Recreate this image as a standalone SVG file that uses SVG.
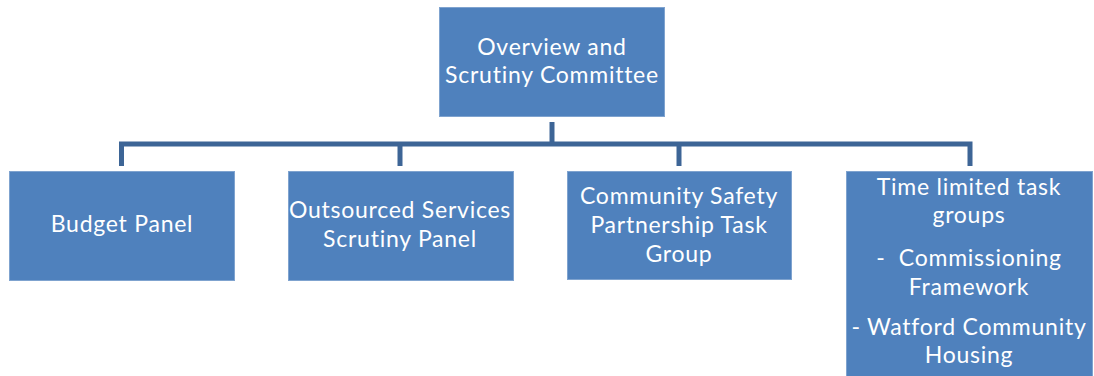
<svg xmlns="http://www.w3.org/2000/svg" width="1094" height="376" viewBox="0 0 1094 376">
<style>
.box{fill:#4F81BD;stroke:#7FA3CF;stroke-width:1}
.t{font-family:Lato,"Open Sans","Liberation Sans",sans-serif;font-size:23px;letter-spacing:0.75px;font-variant-ligatures:none;fill:#FFFFFF;text-anchor:middle}
.c{fill:none;stroke:#3D6596;stroke-width:5;stroke-linejoin:miter}
</style>
<rect width="1094" height="376" fill="#FFFFFF"/>
<g id="connectors">
<path class="c" d="M552,122 V144"/>
<path class="c" d="M121.5,166 V144 H970 V166"/>
<path class="c" d="M400,144 V166"/>
<path class="c" d="M679,144 V166"/>
</g>
<g id="overview">
<rect class="box" x="439.5" y="7.5" width="225" height="109"/>
<text class="t" x="552" y="55">Overview and</text>
<text class="t" x="552" y="83">Scrutiny Committee</text>
</g>
<g id="budget">
<rect class="box" x="9.5" y="171.5" width="225" height="109"/>
<text class="t" x="122" y="232">Budget Panel</text>
</g>
<g id="outsourced">
<rect class="box" x="288.5" y="171.5" width="225" height="109"/>
<text class="t" x="400" y="218">Outsourced Services</text>
<text class="t" x="400" y="247">Scrutiny Panel</text>
</g>
<g id="community">
<rect class="box" x="567.5" y="171.5" width="224" height="108"/>
<text class="t" x="679" y="204">Community Safety</text>
<text class="t" x="679" y="233">Partnership Task</text>
<text class="t" x="679" y="262">Group</text>
</g>
<g id="timelimited">
<rect class="box" x="846.5" y="171.5" width="246" height="210"/>
<text class="t" x="969" y="195">Time limited task</text>
<text class="t" x="969" y="223">groups</text>
<text class="t" x="969" y="266" xml:space="preserve">-  Commissioning</text>
<text class="t" x="969" y="295">Framework</text>
<text class="t" x="969" y="335">- Watford Community</text>
<text class="t" x="969" y="363">Housing</text>
</g>
</svg>
